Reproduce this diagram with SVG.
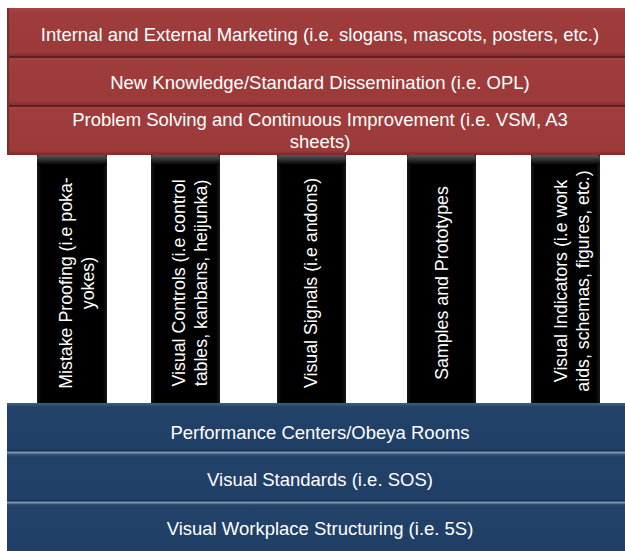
<svg xmlns="http://www.w3.org/2000/svg" width="625" height="551" viewBox="0 0 625 551">
<defs>
<linearGradient id="redG" x1="0" y1="0" x2="0" y2="1">
<stop offset="0" stop-color="#a84444"/>
<stop offset="0.1" stop-color="#9f3d3d"/>
<stop offset="0.9" stop-color="#9c3a3a"/>
<stop offset="1" stop-color="#7e2b2b"/>
</linearGradient>
<linearGradient id="blueG" x1="0" y1="0" x2="0" y2="1">
<stop offset="0" stop-color="#3d5f88"/>
<stop offset="0.08" stop-color="#22426a"/>
<stop offset="1" stop-color="#203f66"/>
</linearGradient>
<linearGradient id="pillarTop" x1="0" y1="0" x2="0" y2="1">
<stop offset="0" stop-color="#5a5a5a"/>
<stop offset="1" stop-color="#000000"/>
</linearGradient>
<linearGradient id="pillarG" x1="0" y1="0" x2="1" y2="0">
<stop offset="0" stop-color="#1a1a1a"/>
<stop offset="0.06" stop-color="#000"/>
<stop offset="0.94" stop-color="#000"/>
<stop offset="1" stop-color="#1a1a1a"/>
</linearGradient>
</defs>
<style>
.band text, text{font-family:"Liberation Sans", Arial, Helvetica, sans-serif; fill:#ffffff;}
.bt{font-size:18.5px; text-anchor:middle;}
.pt{font-size:17.8px; text-anchor:middle;}
.red{fill:url(#redG);}
.blue{fill:url(#blueG);}
.pillar{fill:url(#pillarG);}
.ptop{fill:url(#pillarTop);}
.rdiv{fill:#5e2020;}
.rhl{fill:#ad4a4a;}
.bdiv{fill:#7892b0;}
.bsh{fill:#18304f;}
</style>
<rect width="625" height="551" fill="#ffffff"/>

<g id="pillars">
<g id="pillar-mistake-proofing">
<rect class="pillar" x="37" y="152" width="70" height="252"/>
<rect class="ptop" x="37" y="155" width="70" height="10" rx="3"/>
<text class="pt" transform="translate(72,283) rotate(-90)"><tspan x="0" y="0">Mistake Proofing (i.e poka-</tspan><tspan x="0" y="21.5">yokes)</tspan></text>
</g>
<g id="pillar-visual-controls">
<rect class="pillar" x="151" y="152" width="69" height="252"/>
<rect class="ptop" x="151" y="155" width="69" height="10" rx="3"/>
<text class="pt" transform="translate(185,283) rotate(-90)"><tspan x="0" y="0">Visual Controls (i.e control</tspan><tspan x="0" y="21.5">tables, kanbans, heijunka)</tspan></text>
</g>
<g id="pillar-visual-signals">
<rect class="pillar" x="277" y="152" width="69" height="252"/>
<rect class="ptop" x="277" y="155" width="69" height="10" rx="3"/>
<text class="pt" transform="translate(317,283) rotate(-90)">Visual Signals (i.e andons)</text>
</g>
<g id="pillar-samples">
<rect class="pillar" x="407" y="152" width="69" height="252"/>
<rect class="ptop" x="407" y="155" width="69" height="10" rx="3"/>
<text class="pt" transform="translate(448,283) rotate(-90)">Samples and Prototypes</text>
</g>
<g id="pillar-visual-indicators">
<rect class="pillar" x="531" y="152" width="69" height="252"/>
<rect class="ptop" x="531" y="155" width="69" height="10" rx="3"/>
<text class="pt" transform="translate(567,281) rotate(-90)"><tspan x="0" y="0">Visual Indicators (i.e work</tspan><tspan x="0" y="21.5">aids, schemas, figures, etc.)</tspan></text>
</g>
</g>

<g id="red-bands">
<g id="band-marketing">
<rect class="red" x="7" y="8" width="620" height="49"/>
<text class="bt" x="320" y="41">Internal and External Marketing (i.e. slogans, mascots, posters, etc.)</text>
</g>
<g id="band-knowledge">
<rect class="red" x="7" y="57" width="620" height="49"/>
<text class="bt" x="320" y="89">New Knowledge/Standard Dissemination (i.e. OPL)</text>
</g>
<g id="band-problem-solving">
<rect class="red" x="7" y="106" width="620" height="49"/>
<text class="bt" x="320" y="126"><tspan x="320" y="126">Problem Solving and Continuous Improvement (i.e. VSM, A3</tspan><tspan x="320" y="148">sheets)</tspan></text>
</g>
<rect class="rdiv" x="7" y="56" width="620" height="2"/>
<rect class="rdiv" x="7" y="105" width="620" height="2"/>
<rect x="7" y="8" width="2" height="147" fill="#7e2b2b"/>
</g>

<g id="blue-bands">
<g id="band-performance">
<rect class="blue" x="7" y="403" width="620" height="50"/>
<text class="bt" x="320" y="439">Performance Centers/Obeya Rooms</text>
</g>
<g id="band-standards">
<rect class="blue" x="7" y="453" width="620" height="49"/>
<text class="bt" x="320" y="486">Visual Standards (i.e. SOS)</text>
</g>
<g id="band-workplace">
<rect class="blue" x="7" y="502" width="620" height="49"/>
<text class="bt" x="320" y="535">Visual Workplace Structuring (i.e. 5S)</text>
</g>
<rect class="bsh" x="7" y="450" width="620" height="1.5"/>
<rect class="bdiv" x="7" y="451.5" width="620" height="2"/>
<rect class="bsh" x="7" y="500" width="620" height="1.5"/>
<rect class="bdiv" x="7" y="501.5" width="620" height="2"/>
</g>
</svg>
